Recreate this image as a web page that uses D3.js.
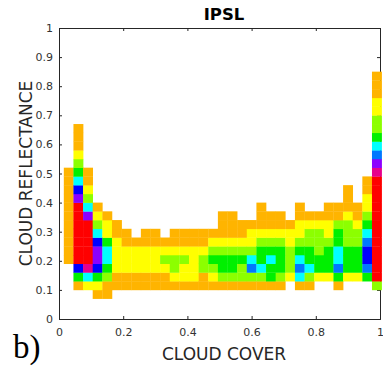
<!DOCTYPE html>
<html>
<head>
<meta charset="utf-8">
<script src="https://cdn.jsdelivr.net/npm/d3@7"></script>
<style>
  body { margin: 0; background: #fff; }
  text { font-family: "DejaVu Sans", sans-serif; }
</style>
</head>
<body>
<script>
let width = 383, height = 367;

// bin centres of the 2D histogram
let xCenters = [0.03, 0.06, 0.09, 0.12, 0.15, 0.18, 0.21, 0.24, 0.27, 0.30, 0.33,
    0.36, 0.39, 0.42, 0.45, 0.48, 0.51, 0.54, 0.57, 0.60, 0.63, 0.66,
    0.69, 0.72, 0.75, 0.78, 0.81, 0.84, 0.87, 0.90, 0.93, 0.96, 0.99];
let yCenters = [0.055, 0.085, 0.115, 0.145, 0.175, 0.205, 0.235, 0.265, 0.295,
    0.325, 0.355, 0.385, 0.415, 0.445, 0.475, 0.505, 0.535, 0.565, 0.595,
    0.625, 0.655, 0.685, 0.715, 0.745, 0.775, 0.805, 0.835];
let binWidth = 0.03, binHeight = 0.03;

// one string per x bin, one char per y bin from the bottom up
// "." = empty, 1..9 then "a" = highest class
let columns = [
    ".....11111111111",
    "..147aaaaaaa875432111",
    "..259aaaaa853211",
    ".12478875321",
    ".1134554221",
    "..11222211",
    "..1122211",
    "..112221",
    "..1122211",
    "..1122211",
    "..112321",
    "..1233211",
    "..1223211",
    "..1222211",
    "..1133211",
    "..1234321",
    "..134432111",
    "..134432111",
    "..13343211",
    "..13653221",
    "..1354432111",
    "..144543211",
    "..134443211",
    "...2333221",
    "..1565432211",
    "..135443321",
    "...24433321",
    "...244432211",
    "..1465544311",
    "...24443332111",
    "...244433211",
    "...467765432211",
    "..3aaaaaaaaaaaa986543322111"
];

let levelColors = ["#ffb400", "#ffff00", "#8cff00", "#00f000", "#00ffff",
    "#0078ff", "#0000ff", "#8c00ff", "#e6008c", "#ff0000"];

let xTicks = [0, 0.2, 0.4, 0.6, 0.8, 1];
let yTicks = [0, 0.1, 0.2, 0.3, 0.4, 0.5, 0.6, 0.7, 0.8, 0.9, 1];

let svg = d3.select("body").append("svg")
    .attr("width", width)
    .attr("height", height);

let x = d3.scaleLinear().domain([0, 1]).range([59, 380]);
let y = d3.scaleLinear().domain([0, 1]).range([319, 28]);

let fmt = d3.format("~g");
let axisColor = "#262626";

// axes box
let bottomAxis = svg.append("g")
    .attr("transform", "translate(0," + y(0) + ")")
    .call(d3.axisBottom(x).tickValues(xTicks).tickFormat(fmt).tickSize(-3).tickPadding(9));
let topAxis = svg.append("g")
    .attr("transform", "translate(0," + y(1) + ")")
    .call(d3.axisTop(x).tickValues(xTicks).tickFormat("").tickSize(-3));
let leftAxis = svg.append("g")
    .attr("transform", "translate(" + x(0) + ",0)")
    .call(d3.axisLeft(y).tickValues(yTicks).tickFormat(fmt).tickSize(-3).tickPadding(6));
let rightAxis = svg.append("g")
    .attr("transform", "translate(" + x(1) + ",0)")
    .call(d3.axisRight(y).tickValues(yTicks).tickFormat("").tickSize(-3));

[bottomAxis, topAxis, leftAxis, rightAxis].forEach(a => {
    a.select(".domain").attr("stroke", axisColor).attr("stroke-width", 1);
    a.selectAll(".tick line").attr("stroke", axisColor);
    a.selectAll(".tick text")
        .attr("fill", "#333")
        .style("font-size", "11px")
        .style("font-family", "DejaVu Sans, sans-serif");
});

// histogram cells
let cells = [];
columns.forEach((col, i) => {
    col.split("").forEach((ch, j) => {
        if (ch !== ".") cells.push({ x: xCenters[i], y: yCenters[j], level: parseInt(ch, 11) });
    });
});

svg.append("g")
    .selectAll("rect")
    .data(cells)
    .enter()
    .append("rect")
    .attr("x", d => x(d.x - binWidth / 2))
    .attr("y", d => y(d.y + binHeight / 2))
    .attr("width", d => x(d.x + binWidth / 2) - x(d.x - binWidth / 2) + 0.3)
    .attr("height", d => y(d.y - binHeight / 2) - y(d.y + binHeight / 2) + 0.3)
    .attr("fill", d => levelColors[d.level - 1]);

// labels
svg.append("text")
    .attr("x", 224)
    .attr("y", 19.5)
    .attr("text-anchor", "middle")
    .style("font-size", "16.5px")
    .style("font-weight", "bold")
    .attr("fill", "#000")
    .text("IPSL");

svg.append("text")
    .attr("x", 224)
    .attr("y", 360)
    .attr("text-anchor", "middle")
    .style("font-size", "17px")
    .attr("fill", "#262626")
    .text("CLOUD COVER");

svg.append("text")
    .attr("transform", "translate(31.5," + (y(0.5)) + ") rotate(-90)")
    .attr("text-anchor", "middle")
    .style("font-size", "17px")
    .attr("fill", "#262626")
    .text("CLOUD REFLECTANCE");

svg.append("text")
    .attr("x", 13)
    .attr("y", 358)
    .style("font-family", "Liberation Serif, serif")
    .style("font-size", "33px")
    .attr("fill", "#000")
    .text("b)");
</script>
</body>
</html>
